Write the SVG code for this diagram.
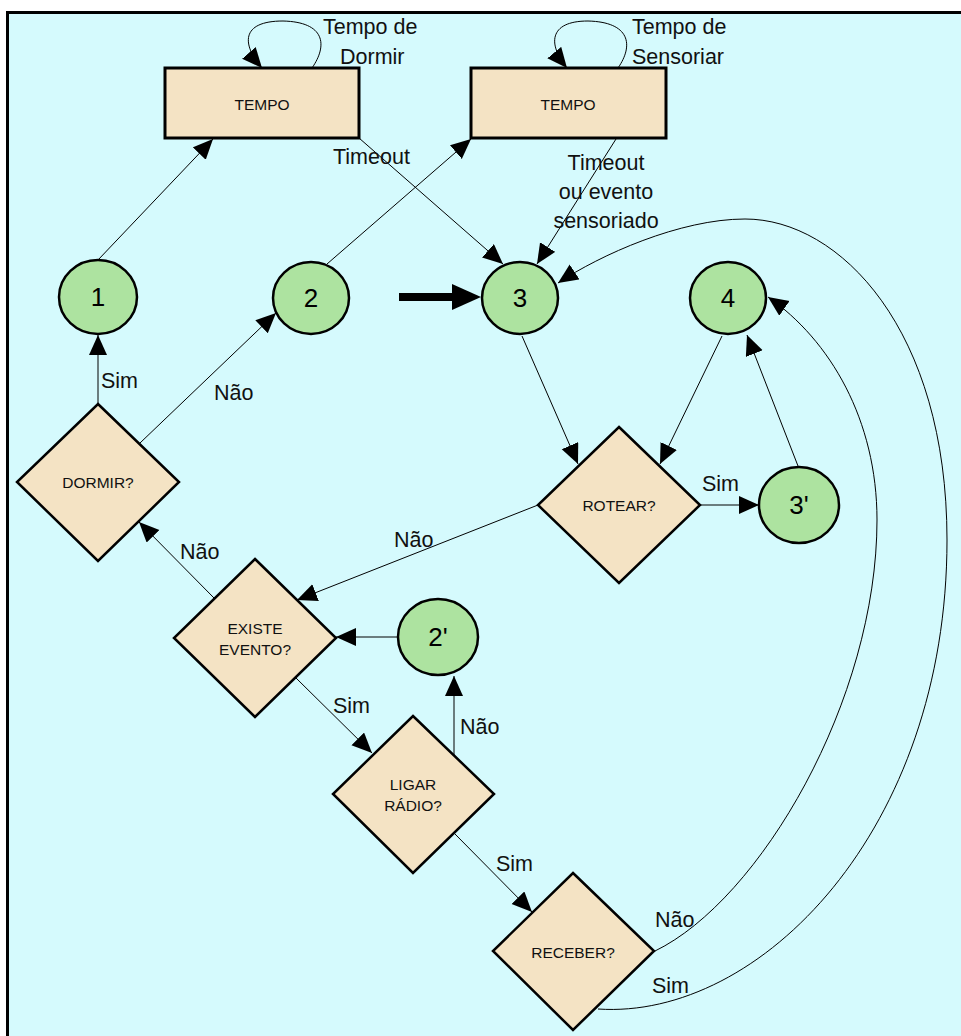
<svg xmlns="http://www.w3.org/2000/svg" width="961" height="1036" viewBox="0 0 961 1036">
<defs>
<marker id="ah" markerUnits="userSpaceOnUse" markerWidth="22" markerHeight="20" refX="20" refY="9" orient="auto">
<path d="M0,0 L20,9 L0,18 z" fill="#000"/>
</marker>
<style>
.bx{fill:#F4E3C4;stroke:#000;stroke-width:3}
.dm{fill:#F4E3C4;stroke:#000;stroke-width:2.5}
.ci{fill:#ADE3A0;stroke:#000;stroke-width:2.5}
.ca{fill:none;stroke:#000;stroke-width:1;marker-end:url(#ah)}
.nt{font-family:"Liberation Sans",Arial,sans-serif;font-size:15.5px;fill:#111;text-anchor:middle}
.nm{font-family:"Liberation Sans",Arial,sans-serif;font-size:26px;fill:#000;text-anchor:middle}
.lb{font-family:"Liberation Sans",Arial,sans-serif;font-size:21.5px;fill:#111}
.lm{font-family:"Liberation Sans",Arial,sans-serif;font-size:21.5px;fill:#111;text-anchor:middle}
</style>
</defs>
<rect x="0" y="0" width="961" height="1036" fill="#fff"/>
<rect x="7.5" y="12.5" width="970" height="1040" fill="#D5FAFD" stroke="#000" stroke-width="3"/>

<g id="connectors">
<path class="ca" d="M312,68 C328,45 325,22 283,21 C240,21 242,45 262,68"/>
<path class="ca" d="M618,68 C634,45 630,22 588,21 C548,21 548,45 567,68"/>
<line class="ca" x1="98" y1="260" x2="213" y2="139"/>
<line class="ca" x1="327" y1="264" x2="471" y2="139"/>
<line class="ca" x1="359" y1="138" x2="503" y2="264"/>
<line class="ca" x1="616" y1="139" x2="537" y2="264"/>
<line x1="399" y1="297" x2="454" y2="297" stroke="#000" stroke-width="8"/>
<polygon points="452,284 481,297 452,310" fill="#000"/>
<line class="ca" x1="522" y1="336" x2="578" y2="464"/>
<line class="ca" x1="722" y1="336" x2="660" y2="464"/>
<line class="ca" x1="798" y1="466" x2="747" y2="335"/>
<line class="ca" x1="700" y1="505" x2="759" y2="505"/>
<line class="ca" x1="538" y1="505" x2="297" y2="600"/>
<line class="ca" x1="98" y1="404" x2="98" y2="335"/>
<line class="ca" x1="140" y1="443" x2="276" y2="313"/>
<line class="ca" x1="214" y1="598" x2="139" y2="522"/>
<line class="ca" x1="398" y1="637" x2="336" y2="637"/>
<line class="ca" x1="296" y1="678" x2="372" y2="753"/>
<line class="ca" x1="454" y1="755" x2="454" y2="676"/>
<line class="ca" x1="455" y1="834" x2="532" y2="912"/>
<path class="ca" d="M655,951 C760,900 877,700 877,520 C877,420 830,340 768,297"/>
<path class="ca" d="M598,1009 C760,1020 947,830 947,540 C947,330 840,219 745,219 C680,219 600,255 558,283"/>

<text class="lb" x="323" y="34">Tempo de</text>
<text class="lb" x="340" y="64">Dormir</text>
<text class="lb" x="632" y="34">Tempo de</text>
<text class="lb" x="632" y="64">Sensoriar</text>
<text class="lb" x="333" y="164">Timeout</text>
<text class="lm" x="606" y="170">Timeout</text>
<text class="lm" x="606" y="199">ou evento</text>
<text class="lm" x="606" y="228">sensoriado</text>
<text class="lb" x="101" y="388">Sim</text>
<text class="lb" x="214" y="400">Não</text>
<text class="lb" x="702" y="491">Sim</text>
<text class="lb" x="394" y="547">Não</text>
<text class="lb" x="180" y="559">Não</text>
<text class="lb" x="333" y="713">Sim</text>
<text class="lb" x="460" y="734">Não</text>
<text class="lb" x="496" y="871">Sim</text>
<text class="lb" x="655" y="927">Não</text>
<text class="lb" x="652" y="993">Sim</text>
</g>

<g id="tempo1"><rect class="bx" x="165" y="68" width="194" height="70"/><text class="nt" x="262" y="110">TEMPO</text></g>
<g id="tempo2"><rect class="bx" x="471" y="68" width="195" height="70"/><text class="nt" x="568" y="110">TEMPO</text></g>

<g id="n1"><ellipse class="ci" cx="98" cy="297" rx="39" ry="37"/><text class="nm" x="98" y="306">1</text></g>
<g id="n2"><ellipse class="ci" cx="311" cy="298" rx="38" ry="36"/><text class="nm" x="311" y="307">2</text></g>
<g id="n3"><ellipse class="ci" cx="520" cy="298" rx="38" ry="36"/><text class="nm" x="520" y="307">3</text></g>
<g id="n4"><ellipse class="ci" cx="728" cy="298" rx="38" ry="36"/><text class="nm" x="728" y="307">4</text></g>
<g id="n3p"><ellipse class="ci" cx="799" cy="505" rx="40" ry="38"/><text class="nm" x="799" y="514">3'</text></g>
<g id="n2p"><ellipse class="ci" cx="438" cy="637" rx="40" ry="38"/><text class="nm" x="438" y="646">2'</text></g>

<g id="dormir"><polygon class="dm" points="98,404 179,482 98,561 17,482"/><text class="nt" x="98" y="488">DORMIR?</text></g>
<g id="existe"><polygon class="dm" points="255,559 336,638 255,717 174,638"/><text class="nt" x="255" y="634">EXISTE</text><text class="nt" x="255" y="655">EVENTO?</text></g>
<g id="rotear"><polygon class="dm" points="619,427 700,505 619,583 538,505"/><text class="nt" x="619" y="511">ROTEAR?</text></g>
<g id="ligar"><polygon class="dm" points="413,716 494,794 413,873 333,794"/><text class="nt" x="413" y="790">LIGAR</text><text class="nt" x="413" y="811">RÁDIO?</text></g>
<g id="receber"><polygon class="dm" points="573,873 654,951 573,1030 493,951"/><text class="nt" x="573" y="958">RECEBER?</text></g>
</svg>
